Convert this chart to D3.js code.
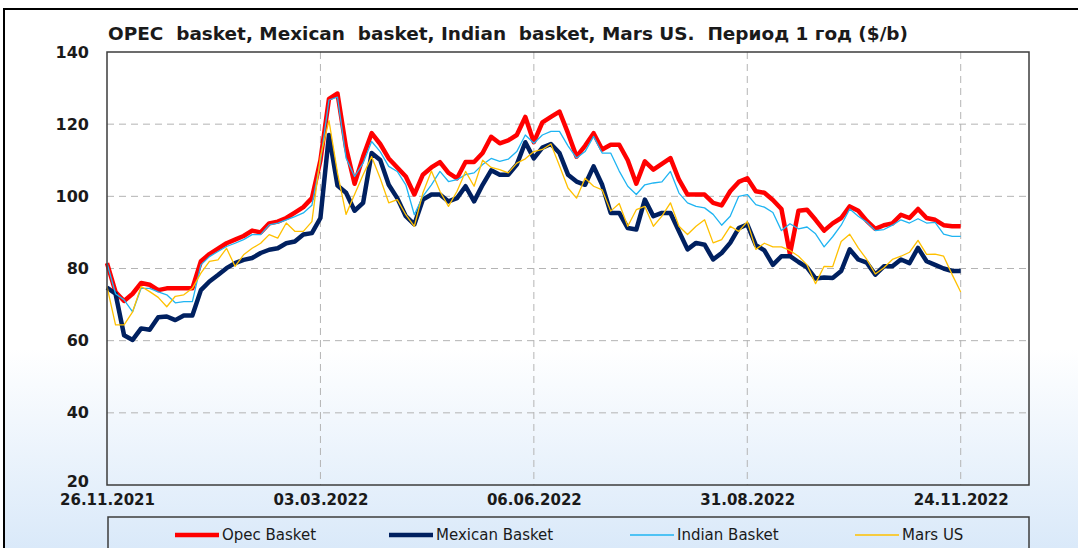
<!DOCTYPE html>
<html>
<head>
<meta charset="utf-8">
<script src="https://cdn.jsdelivr.net/npm/d3@7"></script>
<style>
	body { margin: 0; background: #fff; }
	svg { display: block; }
</style>
</head>
<body>
<script>
// values, one point every ~1.25 weeks of trading days
const xTickLabels = ['26.11.2021', '03.03.2022', '06.06.2022', '31.08.2022', '24.11.2022'];
const xTickStep = 25;
const yTicks = [20, 40, 60, 80, 100, 120, 140];

const opecBasket = [
	81.5, 73.5, 71, 73, 76, 75.5, 74, 74.5, 74.5, 74.5,
	74.5, 82, 84, 85.5, 87, 88, 89, 90.5, 90, 92.5,
	93, 94, 95.5, 97, 99.5, 110, 127, 128.5, 113.5, 103.5,
	111, 117.5, 114.5, 110.5, 108, 105.5, 100.5, 106, 108, 109.5,
	106.5, 105, 109.5, 109.5, 112, 116.5, 114.7, 115.5, 117, 122,
	115, 120.5, 122, 123.5, 117.5, 111, 114, 117.5, 113, 114.3,
	114.3, 110, 103.5, 109.7, 107.4, 109, 110.6, 104.6, 100.5, 100.5,
	100.5, 98.2, 97.5, 101.4, 104, 105, 101.4, 101, 99, 96.5,
	84, 96, 96.3, 93.5, 90.5, 92.5, 94, 97.2, 96, 93.2,
	91, 92, 92.5, 94.9, 94, 96.5, 94, 93.5, 92, 91.7,
	91.7
];
const mexicanBasket = [
	74.7, 73, 61.5, 60.2, 63.4, 63, 66.5, 66.7, 65.7, 67,
	67, 74, 76.4, 78.2, 80.1, 81.5, 82.4, 82.9, 84.3, 85.2,
	85.6, 87, 87.5, 89.4, 89.8, 94, 117, 103, 101, 96,
	98.2, 112, 110.1, 103.2, 99.5, 94.5, 92.2, 99.1, 100.5, 100.5,
	98.6, 99.5, 102.8, 98.6, 103.2, 107.2, 106, 106, 108.8, 115,
	110.5, 113.5, 114.5, 112, 106, 104.1, 103.2, 108.3, 103.2, 95.4,
	95.4, 91.2, 90.8, 99.1, 94.5, 95.4, 95.4, 90.3, 85.3, 87.1,
	86.6, 82.5, 84.3, 87.1, 91.2, 92.2, 86.5, 85, 81, 83.4,
	83.4, 81.8, 80.3, 77.2, 77.5, 77.4, 79.3, 85.3, 82.5, 81.6,
	78.3, 80.6, 80.6, 82.5, 81.5, 85.7, 82, 81, 80, 79.3,
	79.3
];
const indianBasket = [
	81.5, 73, 71.3, 68, 74.5, 74.5, 73.5, 72.7, 70.5, 70.8,
	70.8, 81, 83.3, 84.7, 86.1, 87, 88, 89.4, 89.4, 92.1,
	92.6, 93.5, 94.4, 95.4, 97.5, 109.7, 126.7, 127.5, 110.6, 105.5,
	109.2, 115.2, 112.4, 108.3, 106.9, 103.2, 94.9, 100, 103.2, 106.9,
	104.1, 104.6, 106, 106.5, 108.8, 110.5, 109.7, 110.3, 112.4, 117,
	114.7, 117, 118, 118, 114, 110.6, 112.4, 116.6, 112, 112,
	107, 102.8, 100.5, 103.2, 103.7, 104, 106.9, 100.9, 98.2, 97.2,
	96.8, 95, 92, 94.5, 100, 100.5, 97.7, 97, 95.5, 90.5,
	92.4, 91, 91.5, 89.6, 86, 88.8, 92, 96.5, 94.5, 92.8,
	90.5, 90.8, 92, 93.5, 92.6, 93.8, 92.6, 92.8, 89.5, 88.9,
	88.9
];
const marsUS = [
	75, 64.4, 64.4, 68, 75, 73.6, 72, 69.4, 72.3, 72.7,
	74.5, 78.7, 82, 82.4, 85.6, 80.6, 83.8, 85.6, 87, 89.4,
	88.4, 92.6, 90.3, 90.3, 93, 111, 121, 106.5, 95, 100.5,
	106, 111, 105, 98.2, 99.1, 94.9, 91.7, 100.9, 107, 101.4,
	97.2, 101.4, 106.9, 102.8, 110, 108, 107.4, 106.5, 109.2, 110.4,
	112.4, 113, 114.5, 108.5, 102.3, 99.5, 105, 102.8, 101.8, 95.9,
	98, 91.7, 96.3, 97.2, 91.7, 94.5, 98.2, 91.7, 89.4, 91.7,
	93.5, 87.1, 88, 91.7, 90.3, 93, 85.3, 87, 86, 86,
	85, 83.4, 81, 75.8, 80.6, 80.5, 87.5, 89.5, 85.7, 82.5,
	78.5, 80.2, 82.5, 83.4, 84.5, 87.8, 83.9, 84, 83.4, 78.3,
	73.5
];

const seriesNames = ['Opec Basket', 'Mexican Basket', 'Indian Basket', 'Mars US'];
const seriesValues = [opecBasket, mexicanBasket, indianBasket, marsUS];
const seriesColors = ['#ff0000', '#002060', '#1fb4f2', '#ffc000'];
const seriesWidths = [4.5, 4.5, 1.3, 1.3];

const width = 1078;
const height = 548;
const plot = {left: 107, top: 52, right: 1029, bottom: 485};

const svg = d3.select('body').append('svg')
	.attr('width', width)
	.attr('height', height);

// background: white fading to light blue at the bottom
const grad = svg.append('defs').append('linearGradient')
	.attr('id', 'bg')
	.attr('x1', 0).attr('y1', 0).attr('x2', 0).attr('y2', 1);
grad.append('stop').attr('offset', '0').attr('stop-color', '#ffffff');
grad.append('stop').attr('offset', '0.62').attr('stop-color', '#ffffff');
grad.append('stop').attr('offset', '1').attr('stop-color', '#d8e8f9');

svg.append('rect')
	.attr('x', 4).attr('y', 9)
	.attr('width', width + 10).attr('height', height)
	.attr('fill', 'url(#bg)')
	.attr('stroke', '#000')
	.attr('stroke-width', 2);

// scales
const x = d3.scaleLinear()
	.domain([0, 108])
	.range([plot.left, plot.right]);
const y = d3.scaleLinear()
	.domain([20, 140])
	.range([plot.bottom, plot.top]);

// grid
const grid = svg.append('g');
grid.selectAll('line.h')
	.data(yTicks.filter(v => v > 20 && v < 140))
	.join('line')
	.attr('x1', plot.left).attr('x2', plot.right)
	.attr('y1', d => y(d)).attr('y2', d => y(d))
	.attr('stroke', '#b4b4b4')
	.attr('stroke-dasharray', '7,5');
grid.selectAll('line.v')
	.data(xTickLabels.map((d, i) => i * xTickStep).slice(1))
	.join('line')
	.attr('x1', d => x(d)).attr('x2', d => x(d))
	.attr('y1', plot.top).attr('y2', plot.bottom)
	.attr('stroke', '#b4b4b4')
	.attr('stroke-dasharray', '7,5');

// axes
const yAxis = svg.append('g')
	.attr('transform', `translate(${plot.left},0)`)
	.call(d3.axisLeft(y).tickValues(yTicks).tickSize(0).tickPadding(18));
yAxis.select('.domain').remove();
yAxis.selectAll('text')
	.attr('font-family', 'DejaVu Sans')
	.attr('font-weight', 'bold')
	.attr('font-size', 16)
	.attr('fill', '#1a1a1a');
// lowest label sits a little above the axis line, as in the reference
yAxis.selectAll('text').filter(d => d === 20).attr('dy', '0.1em');

const xAxis = svg.append('g')
	.attr('transform', `translate(0,${plot.bottom})`)
	.call(d3.axisBottom(x)
		.tickValues(xTickLabels.map((d, i) => i * xTickStep))
		.tickFormat((d, i) => xTickLabels[i])
		.tickSize(0)
		.tickPadding(9));
xAxis.select('.domain').remove();
xAxis.selectAll('text')
	.attr('font-family', 'DejaVu Sans')
	.attr('font-weight', 'bold')
	.attr('font-size', 15)
	.attr('fill', '#1a1a1a');

// series lines
const line = d3.line()
	.x((d, i) => x(i))
	.y(d => y(d));

svg.append('g')
	.selectAll('path')
	.data(seriesValues)
	.join('path')
	.attr('d', d => line(d))
	.attr('fill', 'none')
	.attr('stroke', (d, i) => seriesColors[i])
	.attr('stroke-width', (d, i) => seriesWidths[i])
	.attr('stroke-linejoin', 'round');

// plot frame
svg.append('rect')
	.attr('x', plot.left).attr('y', plot.top)
	.attr('width', plot.right - plot.left)
	.attr('height', plot.bottom - plot.top)
	.attr('fill', 'none')
	.attr('stroke', '#3c3c3c')
	.attr('stroke-width', 1.5);

// title
svg.append('text')
	.attr('x', 108).attr('y', 40)
	.attr('font-family', 'DejaVu Sans')
	.attr('font-weight', 'bold')
	.attr('font-size', 17)
	.attr('fill', '#1a1a1a')
	.attr('textLength', 800)
	.attr('lengthAdjust', 'spacingAndGlyphs')
	.attr('xml:space', 'preserve')
	.text('OPEC  basket, Mexican  basket, Indian  basket, Mars US.  Период 1 год ($/b)');

// legend
svg.append('rect')
	.attr('x', 108).attr('y', 517)
	.attr('width', plot.right - 108).attr('height', 60)
	.attr('fill', 'none')
	.attr('stroke', '#3c3c3c')
	.attr('stroke-width', 1.5);

const legendX = [175, 389, 630, 855];
const legend = svg.append('g')
	.selectAll('g')
	.data(seriesNames)
	.join('g')
	.attr('transform', (d, i) => `translate(${legendX[i]},535)`);
legend.append('line')
	.attr('x1', 0).attr('x2', 44)
	.attr('stroke', (d, i) => seriesColors[i])
	.attr('stroke-width', (d, i) => seriesWidths[i]);
legend.append('text')
	.attr('x', 47).attr('dy', '0.35em')
	.attr('font-family', 'DejaVu Sans')
	.attr('font-size', 15)
	.attr('fill', '#1a1a1a')
	.text(d => d);
</script>
</body>
</html>
